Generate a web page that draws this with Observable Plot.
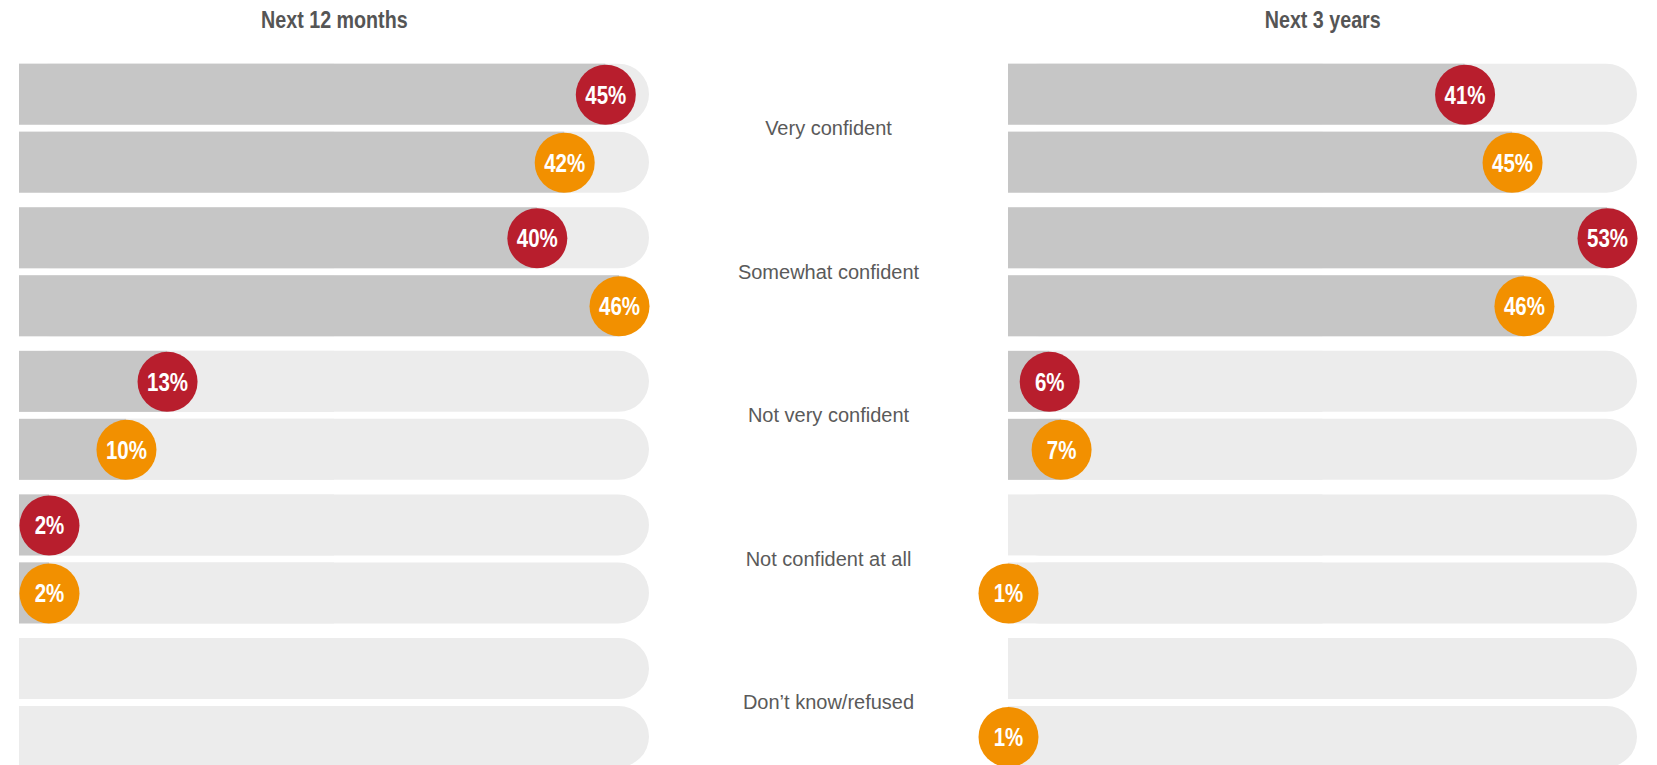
<!DOCTYPE html>
<html><head><meta charset="utf-8">
<script src="https://cdn.jsdelivr.net/npm/d3@7"></script>
<script src="https://cdn.jsdelivr.net/npm/@observablehq/plot@0.6"></script>
<style>
body{margin:0;background:#fff;width:1657px;height:765px;overflow:hidden;}
#wrap{display:flex;align-items:flex-start;}
.title{height:40px;line-height:40px;text-align:center;white-space:nowrap;}
.title span{display:inline-block;font-family:"Liberation Sans",Arial,sans-serif;font-weight:bold;font-size:24px;color:#555;transform:scaleX(0.82);transform-origin:center;}
svg{display:block;overflow:visible;}
</style></head><body><div id="wrap"></div>
<script>
const categories = ["Very confident","Somewhat confident","Not very confident","Not confident at all","Don\u2019t know/refused"];
const seriesNames = ["Group A","Group B"];
const seriesColors = ["#b81e2d","#f29000"];
const panelTitles = ["Next 12 months","Next 3 years"];
const next12GroupA = [45, 40, 13, 2, null];
const next12GroupB = [42, 46, 10, 2, null];
const next3GroupA = [41, 53, 6, null, null];
const next3GroupB = [45, 46, 7, 1, 1];

function rows(a, b) {
  return categories.flatMap((c, i) => [
    {cat: c, s: seriesNames[0], v: a[i]},
    {cat: c, s: seriesNames[1], v: b[i]}
  ]);
}

const R = 30;

function panel({title, data, width, marginLeft, marginRight, showLabels}) {
  const max = d3.max(data, d => d.v);
  const rangeW = width - marginLeft - marginRight;
  const rU = R * max / rangeW;
  const pts = data.filter(d => d.v != null).map(d => {
    let cx = d.v - rU;
    if (cx < 0) cx = d.v >= rU / 2 ? rU : 0;
    return {...d, cx};
  });
  const marks = [
    Plot.barX(data, {x1: 0, x2: max, y: "s", fy: "cat", fill: "#ececec", rx: 30.5}),
    Plot.barX(data, {x1: 0, x2: max / 2, y: "s", fy: "cat", fill: "#ececec"}),
    Plot.barX(pts, {x1: 0, x2: "cx", y: "s", fy: "cat", fill: "#c6c6c6"}),
    Plot.dot(pts, {x: "cx", y: "s", fy: "cat", r: R, fill: "s", stroke: null}),
    Plot.text(pts, {x: "cx", y: "s", fy: "cat", text: d => d.v + "%", fill: "white",
      fontSize: 25, fontWeight: "bold", fontFamily: "Liberation Sans, Arial, sans-serif",
      dy: 1, className: "pct"})
  ];
  if (showLabels) {
    marks.push(Plot.axisFy({anchor: "right", tickSize: 0, tickPadding: 0, dx: 179,
      textAnchor: "middle", fontSize: 20, color: "#5a5a5a", label: null,
      fontFamily: "Liberation Sans, Arial, sans-serif"}));
  }
  const plot = Plot.plot({
    width, height: 727,
    marginLeft, marginRight, marginTop: 23.7, marginBottom: 0,
    x: {domain: [0, max], axis: null},
    y: {domain: seriesNames, paddingInner: 0.103, paddingOuter: 0, axis: null, round: false},
    fy: {domain: categories, paddingInner: 0.1017, paddingOuter: 0, axis: null, label: null, round: false},
    color: {domain: seriesNames, range: seriesColors},
    style: {fontFamily: "Liberation Sans, Arial, sans-serif", background: "transparent"},
    marks
  });
  // narrow the percent labels (condensed look)
  d3.select(plot).selectAll("g.pct text").each(function() {
    const el = this;
    const tr = el.getAttribute("transform");
    if (tr) {
      el.setAttribute("transform", tr + " scale(0.82,1)");
    } else {
      const x = +el.getAttribute("x") || 0, y = +el.getAttribute("y") || 0;
      el.removeAttribute("x"); el.removeAttribute("y");
      el.setAttribute("transform", `translate(${x},${y}) scale(0.82,1)`);
    }
  });
  const div = document.createElement("div");
  div.style.width = width + "px";
  const t = document.createElement("div");
  t.className = "title";
  const sp = document.createElement("span");
  sp.textContent = title;
  t.appendChild(sp);
  t.style.marginLeft = marginLeft + "px";
  t.style.width = rangeW + "px";
  div.appendChild(t);
  div.appendChild(plot);
  return div;
}

const wrap = document.getElementById("wrap");
wrap.appendChild(panel({title: panelTitles[0], data: rows(next12GroupA, next12GroupB),
  width: 990, marginLeft: 19, marginRight: 341, showLabels: true}));
wrap.appendChild(panel({title: panelTitles[1], data: rows(next3GroupA, next3GroupB),
  width: 667, marginLeft: 18, marginRight: 20, showLabels: false}));
</script>
</body></html>
